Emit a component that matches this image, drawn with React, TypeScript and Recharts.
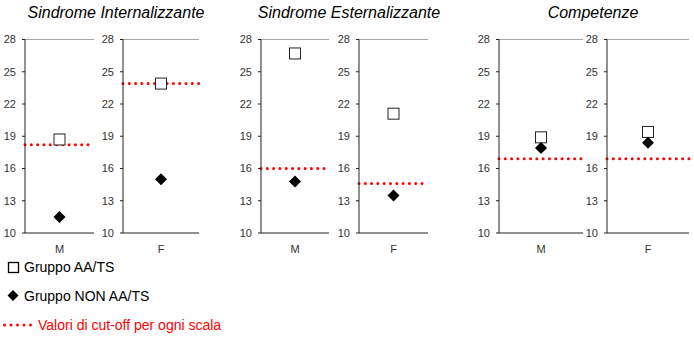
import { ComposedChart, Scatter, XAxis, YAxis, ReferenceLine } from "recharts";

const titles = ["Sindrome Internalizzante", "Sindrome Esternalizzante", "Competenze"];
const categories = ["M", "F", "M", "F", "M", "F"];
const aaValues = [18.7, 23.9, 26.7, 21.1, 18.9, 19.4];
const nonValues = [11.5, 15.0, 14.8, 13.5, 17.9, 18.4];
const cutoffValues = [18.2, 23.9, 16.0, 14.6, 16.9, 16.9];
const yTicks = [10, 13, 16, 19, 22, 25, 28];

// plot area left / right edge of each small panel
const panelEdges = [
  [25, 94],
  [123, 199],
  [261, 329],
  [359, 428],
  [499, 583],
  [607, 689],
];
const titleCenters = [116, 349, 593];

const FONT = "Arial, 'Liberation Sans', sans-serif";
const Y_W = 25;

function SquareShape(p: any) {
  return (
    <rect x={p.cx - 5.5} y={p.cy - 5.5} width={11} height={11} fill="#fff" stroke="#222" strokeWidth={1} />
  );
}

function DiamondShape(p: any) {
  const r = 6;
  return (
    <polygon
      points={`${p.cx},${p.cy - r} ${p.cx + r},${p.cy} ${p.cx},${p.cy + r} ${p.cx - r},${p.cy}`}
      fill="#000"
    />
  );
}

function Panel({ i }: { i: number }) {
  const [l, r] = panelEdges[i];
  const data = [{ cat: categories[i], aa: aaValues[i], non: nonValues[i] }];
  return (
    <div style={{ position: "absolute", left: l - Y_W, top: 30 }}>
      <ComposedChart
        width={Y_W + (r - l) + 2}
        height={225}
        data={data}
        margin={{ top: 9.5, right: 2, left: 0, bottom: 0 }}
      >
        <XAxis
          dataKey="cat"
          type="category"
          axisLine={{ stroke: "#222" }}
          tickLine={false}
          tickSize={2}
          tickMargin={10}
          height={22}
          tick={{ fill: "#333", fontSize: 11, fontFamily: FONT }}
        />
        <YAxis
          type="number"
          domain={[10, 28]}
          ticks={yTicks}
          interval={0}
          width={Y_W}
          tickSize={3}
          tickMargin={6}
          axisLine={{ stroke: "#222" }}
          tickLine={{ stroke: "#222" }}
          tick={{ fill: "#333", fontSize: 11, fontFamily: FONT }}
        />
        <ReferenceLine y={28} stroke="#a6a6a6" strokeWidth={1.2} />
        <ReferenceLine
          y={cutoffValues[i]}
          stroke="#ff0000"
          strokeWidth={3}
          strokeDasharray="0 6.3"
          strokeLinecap="round"
        />
        <Scatter dataKey="aa" shape={SquareShape} isAnimationActive={false} />
        <Scatter dataKey="non" shape={DiamondShape} isAnimationActive={false} />
      </ComposedChart>
    </div>
  );
}

export default function App() {
  return (
    <div
      style={{
        position: "absolute",
        left: 0,
        top: 0,
        width: 694,
        height: 338,
        background: "#fff",
        fontFamily: FONT,
        overflow: "hidden",
      }}
    >
      {titles.map((t, k) => (
        <div
          key={t}
          style={{
            position: "absolute",
            left: titleCenters[k] - 120,
            width: 240,
            top: 4,
            textAlign: "center",
            fontStyle: "italic",
            fontSize: 16,
            color: "#000",
          }}
        >
          {t}
        </div>
      ))}
      {categories.map((_, i) => (
        <Panel key={i} i={i} />
      ))}
      <div style={{ position: "absolute", left: 7, top: 259, fontSize: 14, display: "flex", alignItems: "center" }}>
        <svg width={14} height={14} style={{ marginRight: 3 }}>
          <rect x={1.5} y={2.5} width={10} height={10} fill="#fff" stroke="#000" strokeWidth={1.3} />
        </svg>
        Gruppo AA/TS
      </div>
      <div style={{ position: "absolute", left: 7, top: 288, fontSize: 14, display: "flex", alignItems: "center" }}>
        <svg width={14} height={14} style={{ marginRight: 3 }}>
          <polygon points="6,1 11.5,6.5 6,12 0.5,6.5" fill="#000" />
        </svg>
        Gruppo NON AA/TS
      </div>
      <div
        style={{
          position: "absolute",
          left: 3,
          top: 317,
          fontSize: 14,
          color: "#ff0000",
          display: "flex",
          alignItems: "center",
        }}
      >
        <svg width={32} height={10} style={{ marginRight: 3 }}>
          <line x1={1.5} y1={5} x2={31} y2={5} stroke="#ff0000" strokeWidth={3} strokeDasharray="0 6.5" strokeLinecap="round" />
        </svg>
        Valori di cut-off per ogni scala
      </div>
    </div>
  );
}
